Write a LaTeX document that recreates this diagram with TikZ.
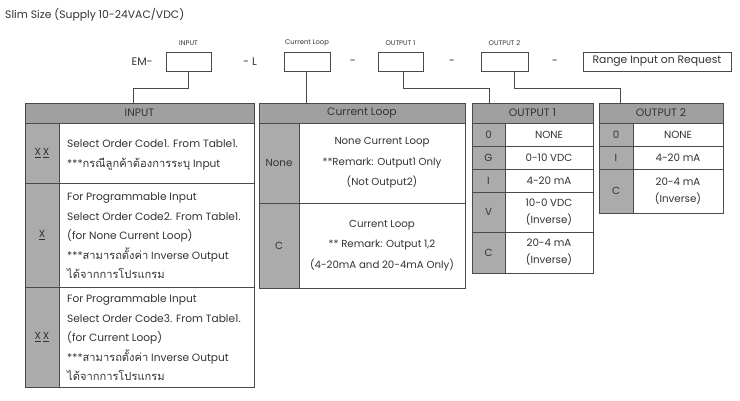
\documentclass[tikz,border=0pt]{standalone}
\usepackage{fontspec}
\setmainfont{Poppins}
\newfontfamily\thaifont[Script=Thai,Scale=1.05]{Loma}
\definecolor{bordc}{HTML}{4A4A4A}
\definecolor{hdrc}{HTML}{A0A0A0}
\definecolor{codec}{HTML}{ABABAB}
\definecolor{txt}{HTML}{333333}
\newcommand\cellat[7]{\node[#6, minimum width={(#4-#2)*1pt}, minimum height={(#5-#3)*1pt}] (#1) at ({(#2+#4)/2},{(#3+#5)/2}) {#7};}
\newcommand\thtxt[1]{{\thaifont #1}}
\begin{document}
\begin{tikzpicture}[x=1pt,y=-1pt,
  cell/.style={draw=bordc, line width=0.7pt, inner sep=0pt, fill=white, text=txt, align=center, font=\fontsize{10.3}{17}\selectfont},
  hdr/.style={cell, fill=hdrc, font=\fontsize{10.8}{12}\selectfont},
  code/.style={cell, fill=codec},
  topbox/.style={draw=bordc, line width=0.7pt, inner sep=0pt, fill=white, text=txt, font=\fontsize{10.8}{11}\selectfont},
  toplbl/.style={text=txt, font=\fontsize{6.8}{7}\selectfont, inner sep=0pt},
  sep/.style={text=txt, font=\fontsize{11}{12}\selectfont, inner sep=0pt},
  desc/.style={text=txt, align=left, anchor=west, inner sep=0pt, font=\fontsize{10.6}{19.5}\selectfont},
  conn/.style={draw=bordc, line width=0.8pt}]
\useasboundingbox (0,0) rectangle (740,400);
% title
\node[anchor=west, text=txt, inner sep=0pt, font=\fontsize{10.8}{12}\selectfont] (title) at (5,15) {Slim Size (Supply 10-24VAC/VDC)};
% top code row
\node[sep, anchor=east] (em) at (153,62) {EM-};
\cellat{inbox}{166}{52}{211}{71}{topbox}{}
\node[sep] (dl) at (250,62) {- L};
\cellat{clbox}{284}{52}{330}{71}{topbox}{}
\node[sep] (d1) at (353,62) {-};
\cellat{o1box}{378}{52}{423}{71}{topbox}{}
\node[sep] (d2) at (452,62) {-};
\cellat{o2box}{481}{52}{528}{71}{topbox}{}
\node[sep] (d3) at (555,62) {-};
\cellat{rng}{583}{52}{731}{71}{topbox}{Range Input on Request}
\node[toplbl] (lin) at (inbox.north |- 0,43) {INPUT};
\node[toplbl] (lcl) at (clbox.north |- 0,43) {Current Loop};
\node[toplbl] (lo1) at (o1box.north |- 0,43) {OUTPUT 1};
\node[toplbl] (lo2) at (o2box.north |- 0,43) {OUTPUT 2};
% INPUT table
\cellat{inh}{25}{103}{254}{123}{hdr}{INPUT}
\cellat{inc1}{25}{123}{59}{183}{code}{\underline{X}\,\underline{X}}
\cellat{inr1}{59}{123}{254}{183}{cell}{}
\cellat{inc2}{25}{183}{59}{287}{code}{\underline{X}}
\cellat{inr2}{59}{183}{254}{287}{cell}{}
\cellat{inc3}{25}{287}{59}{387}{code}{\underline{X}\,\underline{X}}
\cellat{inr3}{59}{287}{254}{387}{cell}{}
\node[desc] (int1) at (67,155) {Select Order Code1. From Table1.\\***\thtxt{กรณีลูกค้าต้องการระบุ} Input};
\node[desc] (int2) at (67,236) {For Programmable Input\\Select Order Code2. From Table1.\\(for None Current Loop)\\***\thtxt{สามารถตั้งค่า} Inverse Output\\\thtxt{ได้จากการโปรแกรม}};
\node[desc] (int3) at (67,338) {For Programmable Input\\Select Order Code3. From Table1.\\(for Current Loop)\\***\thtxt{สามารถตั้งค่า} Inverse Output\\\thtxt{ได้จากการโปรแกรม}};
% Current Loop table
\cellat{clh}{259}{103}{465}{123}{hdr}{Current Loop}
\cellat{clc1}{259}{123}{299}{203}{code}{None}
\cellat{clr1}{299}{123}{465}{203}{cell, font=\fontsize{10.2}{20.5}\selectfont}{None Current Loop\\**Remark: Output1 Only\\(Not Output2)}
\cellat{clc2}{259}{203}{299}{288}{code}{C}
\cellat{clr2}{299}{203}{465}{288}{cell, font=\fontsize{10.2}{20.5}\selectfont}{Current Loop\\** Remark: Output 1,2\\(4-20mA and 20-4mA Only)}
% OUTPUT 1 table
\cellat{o1h}{472}{103}{593}{123}{hdr}{OUTPUT 1}
\cellat{o1c1}{472}{123}{505}{146}{code}{0}
\cellat{o1r1}{505}{123}{593}{146}{cell}{NONE}
\cellat{o1c2}{472}{146}{505}{169}{code}{G}
\cellat{o1r2}{505}{146}{593}{169}{cell}{0-10 VDC}
\cellat{o1c3}{472}{169}{505}{192}{code}{I}
\cellat{o1r3}{505}{169}{593}{192}{cell}{4-20 mA}
\cellat{o1c4}{472}{192}{505}{232}{code}{V}
\cellat{o1r4}{505}{192}{593}{232}{cell}{10-0 VDC\\(Inverse)}
\cellat{o1c5}{472}{232}{505}{273}{code}{C}
\cellat{o1r5}{505}{232}{593}{273}{cell}{20-4 mA\\(Inverse)}
% OUTPUT 2 table
\cellat{o2h}{599}{103}{723}{123}{hdr}{OUTPUT 2}
\cellat{o2c1}{599}{123}{633}{146}{code}{0}
\cellat{o2r1}{633}{123}{723}{146}{cell}{NONE}
\cellat{o2c2}{599}{146}{633}{169}{code}{I}
\cellat{o2r2}{633}{146}{723}{169}{cell}{4-20 mA}
\cellat{o2c3}{599}{169}{633}{213}{code}{C}
\cellat{o2r3}{633}{169}{723}{213}{cell}{20-4 mA\\(Inverse)}
% connectors
\coordinate (j1) at (133,88);
\coordinate (j2) at (489,88);
\coordinate (j3) at (620,88);
\draw[conn] (inbox.south) |- (j1) -- (j1 |- inh.north);
\draw[conn] (clbox.south -| 306,0) -- (clh.north -| 306,0);
\draw[conn] (o1box.south -| 403,0) |- (j2) -- (j2 |- o1h.north);
\draw[conn] (o2box.south -| 514,0) |- (j3) -- (j3 |- o2h.north);
\end{tikzpicture}
\end{document}
